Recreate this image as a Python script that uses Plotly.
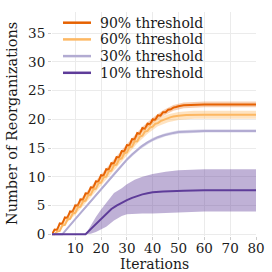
import plotly.graph_objects as go

# ---------------- data ----------------
labels = ["90% threshold", "60% threshold", "30% threshold", "10% threshold"]
colors = ["#e66101", "#fdb863", "#b2abd2", "#5e3c99"]
fills = ["rgba(230,97,1,0.30)", "rgba(253,184,99,0.40)", "rgba(178,171,210,0.40)", "rgba(94,60,153,0.40)"]

x90 = [1, 2, 3, 4, 5, 6, 7, 8, 9, 10, 11, 12, 13, 14, 15, 16, 17, 18, 19, 20,
       21, 22, 23, 24, 25, 26, 27, 28, 29, 30, 31, 32, 33, 34, 35, 36, 37, 38, 39, 40,
       41, 42, 43, 44, 45, 46, 47, 48, 49, 50, 52, 55, 60, 70, 80]
y90 = [0.00, 0.83, 0.75, 1.88, 1.80, 2.93, 2.85, 3.98, 3.90, 5.03,
       4.95, 6.08, 6.00, 7.13, 7.05, 8.18, 8.10, 9.23, 9.15, 10.28,
       10.20, 11.33, 11.25, 12.38, 12.30, 13.43, 13.35, 14.48, 14.40, 15.53,
       15.45, 16.58, 16.50, 17.63, 17.45, 18.50, 18.35, 19.25, 19.15, 20.00,
       19.95, 20.70, 20.65, 21.25, 21.25, 21.70, 21.75, 22.05, 22.15, 22.30,
       22.45, 22.55, 22.60, 22.60, 22.60]
b90_x = [1, 10, 20, 30, 36, 40, 44, 48, 52, 60, 80]
b90_lo = [0.0, 4.4, 9.6, 14.8, 17.8, 19.35, 20.6, 21.5, 21.95, 22.1, 22.1]
b90_hi = [0.2, 5.1, 10.4, 15.7, 18.7, 20.3, 21.6, 22.5, 22.95, 23.1, 23.1]

x60 = [1, 2, 3, 4, 5, 6, 7, 8, 9, 10, 11, 12, 13, 14, 15, 16, 17, 18, 19, 20,
       21, 22, 23, 24, 25, 26, 27, 28, 29, 30, 31, 32, 33, 34, 35, 36, 37, 38, 39, 40,
       41, 42, 43, 44, 45, 46, 47, 48, 49, 50, 53, 56, 60, 70, 80]
y60 = [0.00, 0.00, 0.46, 0.59, 1.51, 1.64, 2.56, 2.69, 3.61, 3.74,
       4.66, 4.79, 5.71, 5.84, 6.76, 6.89, 7.81, 7.94, 8.86, 8.99,
       9.91, 10.04, 10.96, 11.09, 12.01, 12.14, 13.06, 13.19, 14.11, 14.24,
       15.16, 15.25, 16.15, 16.20, 17.00, 17.15, 17.90, 18.00, 18.60, 18.75,
       19.25, 19.35, 19.70, 19.90, 20.10, 20.25, 20.40, 20.50, 20.58, 20.65,
       20.75, 20.80, 20.80, 20.80, 20.80]
b60_x = [2, 10, 20, 30, 34, 38, 42, 46, 50, 56, 80]
b60_lo = [0.0, 3.4, 8.5, 13.8, 15.8, 17.5, 18.8, 19.5, 19.9, 20.1, 20.1]
b60_hi = [0.2, 4.6, 9.7, 15.0, 17.1, 18.9, 20.2, 20.9, 21.3, 21.5, 21.5]

x30 = [1, 5, 10, 15, 20, 25, 28, 30, 32, 34, 36, 38, 40, 42, 44, 46, 48, 50, 55, 60, 70, 80]
y30 = [0.0, 0.0, 2.63, 5.25, 7.88, 10.5, 12.08, 13.0, 13.9, 14.7, 15.4, 16.0,
       16.5, 16.9, 17.2, 17.45, 17.65, 17.8, 17.95, 18.0, 18.0, 18.0]
b30_x = [5, 15, 25, 30, 35, 40, 45, 50, 60, 80]
b30_lo = [0.0, 4.95, 10.2, 12.7, 14.75, 16.2, 17.05, 17.5, 17.7, 17.7]
b30_hi = [0.1, 5.55, 10.8, 13.3, 15.35, 16.8, 17.65, 18.1, 18.3, 18.3]

x10 = [1, 14, 16, 18, 20, 22, 24, 26, 28, 30, 32, 34, 36, 38, 40, 44, 48, 52, 60, 70, 80]
y10 = [0.0, 0.0, 0.9, 1.8, 2.7, 3.6, 4.4, 5.0, 5.5, 5.95, 6.35, 6.7, 6.95, 7.15,
       7.3, 7.45, 7.55, 7.6, 7.65, 7.65, 7.65]
b10_x = [14, 16, 18, 20, 22, 25, 28, 30, 33, 36, 40, 45, 50, 60, 80]
b10_lo = [0.0, 0.1, 0.4, 0.8, 1.3, 2.4, 3.2, 3.5, 3.6, 3.6, 3.6, 3.7, 3.85, 3.95, 3.95]
b10_hi = [0.0, 1.6, 3.0, 4.3, 5.4, 7.2, 8.0, 8.7, 9.5, 10.0, 10.5, 10.9, 11.15, 11.3, 11.3]

x_ticks = [10, 20, 30, 40, 50, 60, 70, 80]
y_ticks = [0, 5, 10, 15, 20, 25, 30, 35]
x_title = "Iterations"
y_title = "Number of Reorganizations"

series = [
    (x90, y90, b90_x, b90_lo, b90_hi),
    (x60, y60, b60_x, b60_lo, b60_hi),
    (x30, y30, b30_x, b30_lo, b30_hi),
    (x10, y10, b10_x, b10_lo, b10_hi),
]

FONT = "DejaVu Serif"
TXT = "#1a1a1a"

fig = go.Figure()
for (xs, ys, bx, blo, bhi), lab, col, fc in zip(series, labels, colors, fills):
    fig.add_trace(go.Scatter(x=bx, y=blo, mode="lines", line=dict(width=0),
                             showlegend=False, hoverinfo="skip"))
    fig.add_trace(go.Scatter(x=bx, y=bhi, mode="lines", line=dict(width=0),
                             fill="tonexty", fillcolor=fc, showlegend=False, hoverinfo="skip"))
    fig.add_trace(go.Scatter(x=xs, y=ys, mode="lines", name=lab,
                             line=dict(color=col, width=2), showlegend=False))

# page-pixel -> paper coordinate helpers for legend / titles
L, R, T, B = 52, 16, 12, 36
W, H = 272 - L - R, 272 - T - B
def px2x(p):
    return (p - L) / W
def py2y(p):
    return (272 - B - p) / H

# manual legend (compact spacing like the reference)
row0, rowgap = 22.7, 16.7
for i, (lab, col) in enumerate(zip(labels, colors)):
    yy = py2y(row0 + i * rowgap)
    fig.add_shape(type="line", xref="paper", yref="paper",
                  x0=px2x(63), x1=px2x(91), y0=yy, y1=yy,
                  line=dict(color=col, width=2.5))
    fig.add_annotation(xref="paper", yref="paper", x=px2x(98), y=yy,
                       text=lab, showarrow=False, xanchor="left", yanchor="middle",
                       font=dict(family=FONT, size=14, color=TXT))

# axis titles
fig.add_annotation(xref="paper", yref="paper", x=px2x(154), y=py2y(264),
                   text=x_title, showarrow=False, xanchor="center", yanchor="middle",
                   font=dict(family=FONT, size=14, color=TXT))
fig.add_annotation(xref="paper", yref="paper", x=px2x(12), y=py2y(124),
                   text=y_title, showarrow=False, xanchor="center", yanchor="middle",
                   textangle=-90, font=dict(family=FONT, size=14.5, color=TXT))

fig.update_layout(
    width=272, height=272,
    margin=dict(l=L, r=R, t=T, b=B, pad=0),
    paper_bgcolor="white", plot_bgcolor="white",
    font=dict(family=FONT, color=TXT),
    showlegend=False,
)
fig.update_xaxes(range=[1, 80], tickvals=x_ticks, showgrid=True, gridcolor="#ebebeb",
                 gridwidth=1, zeroline=False, showline=False, ticks="outside",
                 ticklen=3, tickcolor="#cccccc", tickfont=dict(size=13.5, family=FONT, color=TXT),
                 ticklabelstandoff=-3, automargin=False)
fig.update_yaxes(range=[-0.3, 38.7], tickvals=y_ticks, showgrid=True, gridcolor="#ebebeb",
                 gridwidth=1, zeroline=False, showline=False, ticks="outside",
                 ticklen=3, tickcolor="#cccccc", tickfont=dict(size=13.5, family=FONT, color=TXT),
                 automargin=False)

fig.write_html("out.html", config={"displayModeBar": False},
               post_script="document.body.style.margin='0';")
